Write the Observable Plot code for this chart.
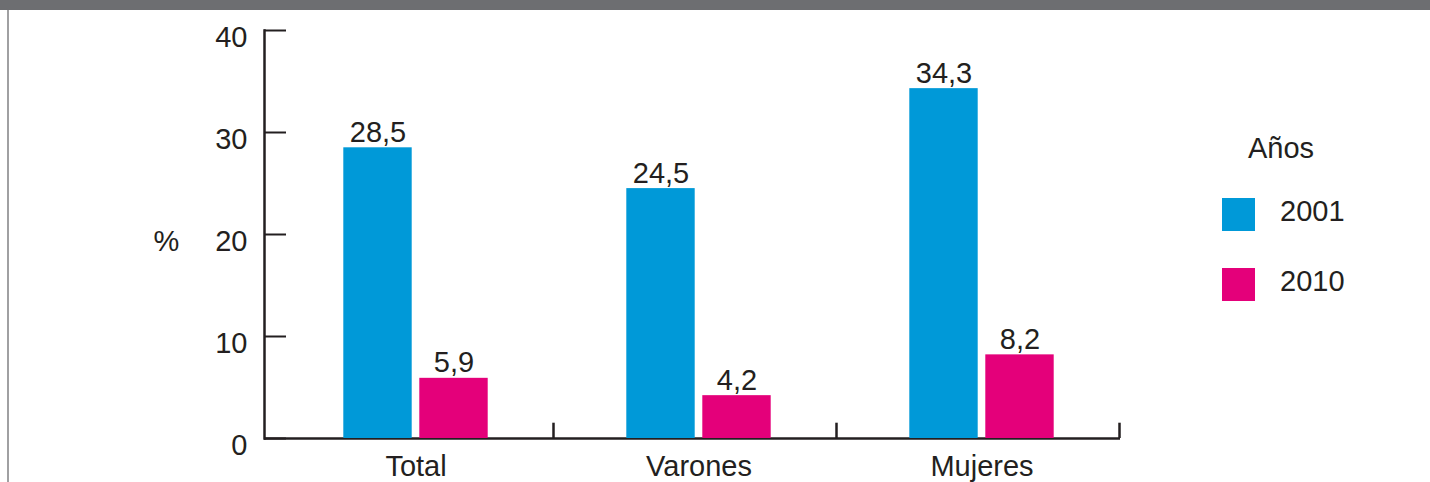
<!DOCTYPE html>
<html>
<head>
<meta charset="utf-8">
<script src="https://cdn.jsdelivr.net/npm/d3@7"></script>
<script src="https://cdn.jsdelivr.net/npm/@observablehq/plot@0.6"></script>
<style>
  html, body { margin: 0; padding: 0; background: #fff; }
  #wrap { position: relative; width: 1430px; height: 482px; overflow: hidden; background: #fff;
          font-family: "Liberation Sans", Arial, Helvetica, sans-serif; color: #231f20; }
  #band { position: absolute; left: 0; top: 0; width: 1430px; height: 10px; background: #6d6e71; }
  #edge { position: absolute; left: 7px; top: 10px; width: 1.5px; height: 472px; background: #a0a0a2; }
  #chart { position: absolute; left: 0; top: 0; }
  .lg { position: absolute; font-size: 29px; line-height: 29px; white-space: nowrap; }
  .sw { position: absolute; width: 33px; height: 33px; }
</style>
</head>
<body>
<div id="wrap">
  <div id="chart"></div>
  <div id="band"></div>
  <div id="edge"></div>
  <div id="legend"></div>
</div>
<script>
const categories = ["Total", "Varones", "Mujeres"];
const years = ["2001", "2010"];
const values2001 = [28.5, 24.5, 34.3];
const values2010 = [5.9, 4.2, 8.2];
const yTicks = [0, 10, 20, 30, 40];
const legendTitle = "Años";
const yLabel = "%";

const blue = "#0099d8";
const magenta = "#e4007a";
const ink = "#231f20";

const data = categories.flatMap((c, i) => [
  {category: c, year: years[0], value: values2001[i]},
  {category: c, year: years[1], value: values2010[i]}
]);
const fmt = v => String(v).replace(".", ",");
const d01 = data.filter(d => d.year === years[0]);
const d10 = data.filter(d => d.year === years[1]);

const chart = Plot.plot({
  width: 1190,
  height: 482,
  marginTop: 30,
  marginBottom: 44,
  marginLeft: 264,
  marginRight: 70,
  style: {fontFamily: "'Liberation Sans', Arial, Helvetica, sans-serif", fontSize: "29px", color: ink, background: "transparent"},
  x: {domain: categories, range: [273, 1124], padding: 0, label: null},
  y: {domain: [0, 40], label: null},
  color: {domain: years, range: [blue, magenta]},
  marks: [
    Plot.ruleY([0], {stroke: ink, strokeWidth: 2.5}),
    Plot.frame({anchor: "left", stroke: ink, strokeWidth: 2.5}),
    Plot.axisY(yTicks, {tickSize: -22, fill: "none", stroke: ink, strokeWidth: 2, label: null}),
    Plot.axisY(yTicks, {tickSize: 0, tickPadding: 17, dy: 7, fill: ink, label: null}),
    Plot.ruleX(categories, {x: d => d, dx: 137.5, y1: 0, y2: 1.5, stroke: ink, strokeWidth: 2.5}),
    Plot.barY(d01, {x: "category", y: "value", fill: "year", dx: -38, insetLeft: 107.3, insetRight: 107.3}),
    Plot.barY(d10, {x: "category", y: "value", fill: "year", dx: 38, insetLeft: 107.3, insetRight: 107.3}),
    Plot.text(d01, {x: "category", y: "value", text: d => fmt(d.value), dx: -38, dy: -6, lineAnchor: "bottom", fill: ink}),
    Plot.text(d10, {x: "category", y: "value", text: d => fmt(d.value), dx: 38, dy: -6, lineAnchor: "bottom", fill: ink}),
    Plot.axisX({tickSize: 0, tickPadding: 17, fill: ink, label: null}),
    Plot.text([yLabel], {frameAnchor: "left", dx: -98, dy: 7, textAnchor: "middle", fill: ink})
  ]
});
document.getElementById("chart").appendChild(chart);

// Legend (HTML, right of the chart)
const legend = document.getElementById("legend");
const colorScale = chart.scale("color");
const addEl = (cls, css, text) => {
  const el = document.createElement("div");
  el.className = cls;
  Object.assign(el.style, css);
  if (text != null) el.textContent = text;
  legend.appendChild(el);
};
addEl("lg", {left: "1248px", top: "134px"}, legendTitle);
const legendTops = [198, 268];
years.forEach((y, i) => {
  addEl("sw", {left: "1222px", top: legendTops[i] + "px", background: colorScale.apply(y)});
  addEl("lg", {left: "1280px", top: (legendTops[i] - 1) + "px"}, y);
});
</script>
</body>
</html>
